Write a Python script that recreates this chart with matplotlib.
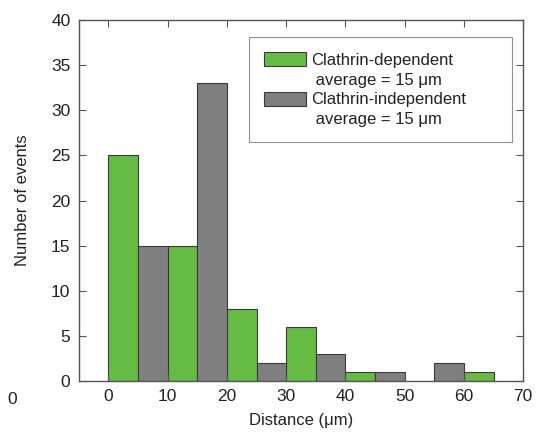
import matplotlib
matplotlib.use("Agg")
from matplotlib import pyplot as plt
from matplotlib.patches import Patch

plt.rcParams['font.family'] = ['Liberation Sans', 'DejaVu Sans']

# histogram bins (left edges, 5 um wide)
dep_edges = [0, 10, 20, 30, 40, 60]
dep_counts = [25, 15, 8, 6, 1, 1]
indep_edges = [5, 15, 25, 35, 45, 55]
indep_counts = [15, 33, 2, 3, 1, 2]
bin_width = 5

xticks = [0, 10, 20, 30, 40, 50, 60, 70]
yticks = [0, 5, 10, 15, 20, 25, 30, 35, 40]

labels = ['Clathrin-dependent', ' average = 15 \u03bcm',
          'Clathrin-independent', ' average = 15 \u03bcm']

green = '#66bb44'
grey = '#7f7f7f'
edge = '#3a3a3a'
fs = 12

fig = plt.figure(figsize=(5.36, 4.38), dpi=100)
ax = fig.add_axes([0.147, 0.130, 0.829, 0.824])

b1 = ax.bar(dep_edges, dep_counts, width=bin_width, align='edge', color=green,
            edgecolor=edge, linewidth=0.8)
b2 = ax.bar(indep_edges, indep_counts, width=bin_width, align='edge', color=grey,
            edgecolor=edge, linewidth=0.8)

ax.set_xlim(-5, 70)
ax.set_ylim(0, 40)
ax.set_xticks(xticks)
ax.set_yticks(yticks)
ax.tick_params(direction='in', length=5, width=0.8, color='#555555',
               labelsize=12.5, top=True, right=True, pad=6, labelcolor='#222222')
for s in ax.spines.values():
    s.set_color('#555555')
    s.set_linewidth(1.0)

ax.set_xlabel('Distance (\u03bcm)', fontsize=fs, color='#222222', labelpad=6)
ax.set_ylabel('Number of events', fontsize=fs, color='#222222', labelpad=15)

blank = Patch(facecolor='none', edgecolor='none')
handles = [Patch(facecolor=green, edgecolor=edge, linewidth=0.8), blank,
           Patch(facecolor=grey, edgecolor=edge, linewidth=0.8), blank]
leg = ax.legend(handles, labels, loc='upper left',
                bbox_to_anchor=(0.383, 0.5, 0.592, 0.453), mode='expand',
                fontsize=fs, frameon=True, fancybox=False, edgecolor='#777777',
                handlelength=2.5, handleheight=0.9, handletextpad=0.35,
                labelspacing=0.25, borderpad=0.9, borderaxespad=0)
leg.get_frame().set_linewidth(0.8)
for t in leg.get_texts():
    t.set_color('#222222')

# stray tick label from a neighbouring panel
fig.text(0.022, 0.087, '0', fontsize=12.5, color='#222222', ha='center', va='center')

fig.savefig('out.png', dpi=100)
